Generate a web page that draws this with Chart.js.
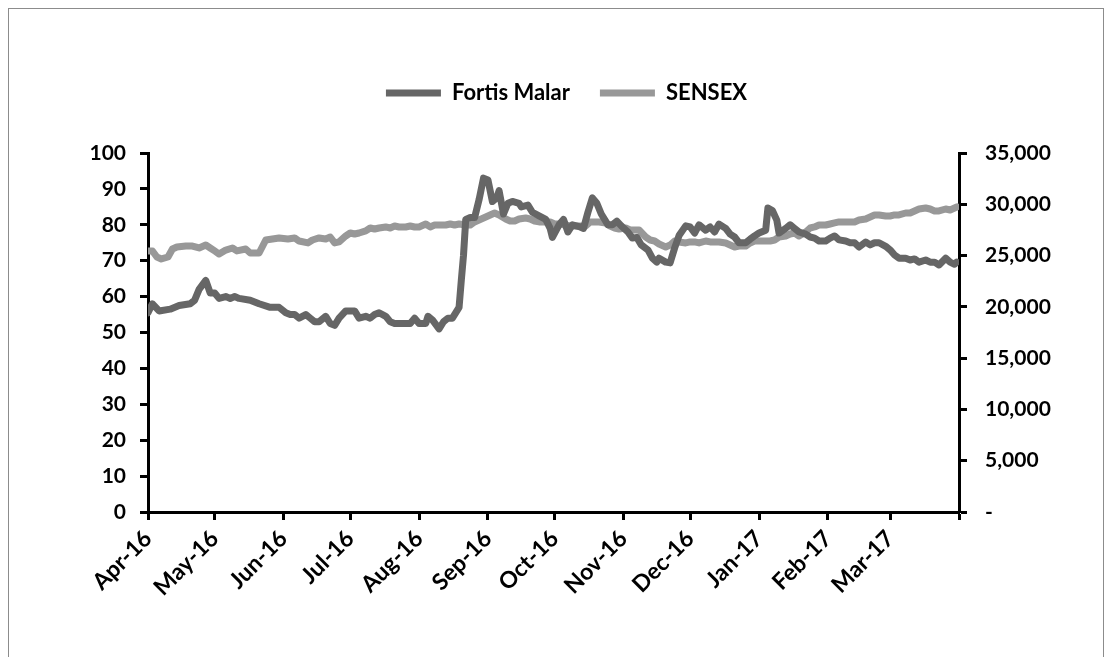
<!DOCTYPE html>
<html>
<head>
<meta charset="utf-8">
<script src="https://cdn.jsdelivr.net/npm/chart.js@4.4.1/dist/chart.umd.min.js"></script>
<style>
  html, body { margin: 0; padding: 0; background: #fff; overflow: hidden; }
  #wrap { position: relative; width: 1113px; height: 657px; }
  #frame { position: absolute; left: 8px; top: 8px; width: 1096px; height: 700px; border: 1px solid #8c8c8c; box-sizing: border-box; pointer-events: none; }
  canvas { position: absolute; left: 0; top: 0; }
</style>
</head>
<body>
<div id="wrap">
  <canvas id="c" width="1113" height="657"></canvas>
  <div id="frame"></div>
</div>
<script>
// ---- Data (x = days since 1 Apr 2016) ----
const monthLabels = ["Apr-16","May-16","Jun-16","Jul-16","Aug-16","Sep-16","Oct-16","Nov-16","Dec-16","Jan-17","Feb-17","Mar-17"];
const monthStartDays = [0,30,61,91,122,153,183,214,244,275,306,334];
const periodEndDay = 365;

const fortisDays = [0,2,5,10,14,19,21,23,26,28,30,32,35,37,39,41,46,50,55,59,62,64,66,68,71,73,75,77,80,82,84,86,89,91,93,95,98,100,102,104,107,109,111,113,116,118,120,122,125,126,128,131,133,135,137,140,141,142,143,145,147,149,151,153,155,157,158,160,162,164,167,168,171,173,176,179,181,182,185,187,189,191,194,196,198,200,202,204,207,209,211,213,216,218,220,222,225,227,229,230,233,235,237,239,242,244,246,248,251,253,255,257,260,262,264,266,269,271,273,275,278,279,281,283,284,287,289,291,293,296,298,300,302,305,307,309,311,314,316,318,320,323,325,327,329,332,334,336,338,341,343,345,347,350,352,354,356,359,361,363,364];
const fortisValues = [55.5,58,56,56.5,57.5,58,59,62,64.5,61,61,59.5,60,59.5,60,59.5,59,58,57,57,55.5,55,55,54,55,54,53,53,54.5,52.5,52,54,56,56,56,54,54.5,54,55,55.5,54.5,53,52.5,52.5,52.5,52.5,54,52.5,52.5,54.5,53.5,51,53,54,54,57,64.5,71.5,81.5,82,82,87,93,92.5,86.5,87.5,89.5,83,86,86.5,86,85,85.5,83.5,82.5,81.5,79,76.5,80,81.5,78,80,79.5,79,83.5,87.5,86,83,80,80,81,79.7,78,76.3,76.5,74.4,73,70.7,69.6,70.7,69.6,69.4,73.5,77,79.7,79.4,77.7,80,78.5,79.4,78,80.2,79,77.4,76.6,75,75,76,76.9,77.7,78.5,84.7,84,81.3,77.7,79,80,79,78,77.4,76.6,76.3,75.5,75.5,76.3,76.9,75.8,75.5,75,75,73.8,75.2,74.4,75,75,74,73,71.6,70.7,70.7,70.2,70.5,69.6,70.2,69.6,69.6,68.8,70.7,69.6,69,69.6];

const sensexDays = [0,2,4,6,9,11,13,17,20,23,26,28,30,32,35,38,40,44,46,50,53,56,59,63,66,68,72,74,77,80,82,84,86,89,91,93,95,98,100,102,104,107,109,111,113,116,118,120,122,125,127,129,131,134,136,138,140,143,145,147,149,152,154,156,158,161,163,165,167,170,172,174,176,179,181,183,185,188,190,192,194,197,199,201,203,206,208,210,212,215,217,219,221,224,226,228,230,233,235,237,239,242,244,246,248,251,253,255,257,260,262,264,266,269,271,273,275,278,280,282,284,287,289,291,293,296,298,300,302,305,307,309,311,314,316,318,320,323,325,327,329,332,334,336,338,341,343,345,347,350,352,354,356,359,361,363,364];
const sensexValues = [25450,25450,24860,24670,24860,25640,25840,25930,25930,25740,26030,25740,25450,25150,25540,25740,25450,25640,25250,25250,26520,26620,26720,26620,26720,26420,26230,26520,26720,26620,26810,26230,26330,26910,27200,27100,27200,27400,27690,27590,27690,27790,27690,27880,27790,27790,27880,27790,27790,28080,27790,27980,27980,27980,28080,27980,28080,27980,27980,28280,28470,28760,28960,29150,28960,28570,28370,28370,28570,28660,28570,28370,28280,28280,28280,28080,28080,27980,27880,27880,27880,27880,28280,28280,28280,28180,27880,27690,27590,27690,27490,27490,27490,26810,26520,26420,26130,25840,26030,26420,26330,26230,26330,26330,26230,26420,26330,26330,26330,26230,26030,25840,25930,25930,26230,26420,26420,26420,26420,26520,26810,26910,27100,27200,26910,27300,27690,27790,27980,27980,28080,28180,28280,28280,28280,28280,28470,28570,28760,28960,28960,28860,28860,28960,28960,29150,29150,29350,29540,29640,29540,29350,29350,29540,29440,29640,29740];

const leftTicks = [0,10,20,30,40,50,60,70,80,90,100];
const rightTicks = [0,5000,10000,15000,20000,25000,30000,35000];

const toXY = (xs, ys) => xs.map((x, i) => ({ x: x, y: ys[i] }));

const FONT = "Lato";
const padLeft = 20;
const chartLeft = 148, chartRight = 959, chartBottom = 512;

new Chart(document.getElementById('c'), {
  type: 'line',
  data: {
    datasets: [
      {
        label: 'Fortis Malar',
        data: toXY(fortisDays, fortisValues),
        yAxisID: 'y',
        borderColor: '#666666',
        backgroundColor: '#666666',
        borderWidth: 7,
        borderCapStyle: 'round',
        borderJoinStyle: 'round',
        pointRadius: 0,
        tension: 0,
        pointStyle: 'line'
      },
      {
        label: 'SENSEX',
        data: toXY(sensexDays, sensexValues),
        yAxisID: 'y1',
        borderColor: '#989898',
        backgroundColor: '#989898',
        borderWidth: 7,
        borderCapStyle: 'round',
        borderJoinStyle: 'round',
        pointRadius: 0,
        tension: 0,
        pointStyle: 'line'
      }
    ]
  },
  options: {
    responsive: false,
    animation: false,
    events: [],
    layout: { padding: { left: padLeft, right: 0, top: 52, bottom: 0 } },
    plugins: {
      tooltip: { enabled: false },
      legend: {
        display: true,
        position: 'top',
        align: 'center',
        weight: 3000,
        labels: {
          usePointStyle: true,
          pointStyleWidth: 55,
          boxHeight: 6,
          padding: 30,
          color: '#000',
          font: { family: FONT, size: 22, weight: 'bold' }
        }
      },
      title: {
        display: true,
        text: '',
        weight: 2000,
        font: { size: 1, lineHeight: 1 },
        padding: { top: 38, bottom: 0 }
      }
    },
    scales: {
      x: {
        type: 'linear',
        min: 0,
        max: periodEndDay,
        afterBuildTicks: (scale) => {
          scale.ticks = monthStartDays.concat([periodEndDay]).map(v => ({ value: v }));
        },
        afterFit: (scale) => { scale.height = 657 - chartBottom; },
        ticks: {
          autoSkip: false,
          minRotation: 45,
          maxRotation: 45,
          padding: 5,
          color: '#000',
          font: { family: FONT, size: 23, weight: 'bold' },
          callback: (v) => {
            const i = monthStartDays.indexOf(v);
            return i >= 0 ? monthLabels[i] : '';
          }
        },
        grid: { display: true, drawOnChartArea: false, drawTicks: true, tickLength: 8, tickWidth: 3, tickColor: '#000' },
        border: { display: true, color: '#000', width: 3 }
      },
      y: {
        type: 'linear',
        position: 'left',
        min: 0,
        max: 100,
        afterBuildTicks: (scale) => { scale.ticks = leftTicks.map(v => ({ value: v })); },
        afterFit: (scale) => { scale.width = chartLeft - padLeft; },
        ticks: {
          padding: 14,
          color: '#000',
          font: { family: FONT, size: 21, weight: 'bold' }
        },
        grid: { display: true, drawOnChartArea: false, drawTicks: true, tickLength: 8, tickWidth: 3, tickColor: '#000' },
        border: { display: true, color: '#000', width: 3 }
      },
      y1: {
        type: 'linear',
        position: 'right',
        min: 0,
        max: 35000,
        afterBuildTicks: (scale) => { scale.ticks = rightTicks.map(v => ({ value: v })); },
        afterFit: (scale) => { scale.width = 1113 - chartRight; },
        ticks: {
          padding: 18,
          color: '#000',
          font: { family: FONT, size: 21, weight: 'bold' },
          callback: (v) => v === 0 ? '-' : v.toLocaleString('en-US')
        },
        grid: { display: true, drawOnChartArea: false, drawTicks: true, tickLength: 8, tickWidth: 3, tickColor: '#000' },
        border: { display: true, color: '#000', width: 3 }
      }
    }
  }
});
</script>
</body>
</html>
